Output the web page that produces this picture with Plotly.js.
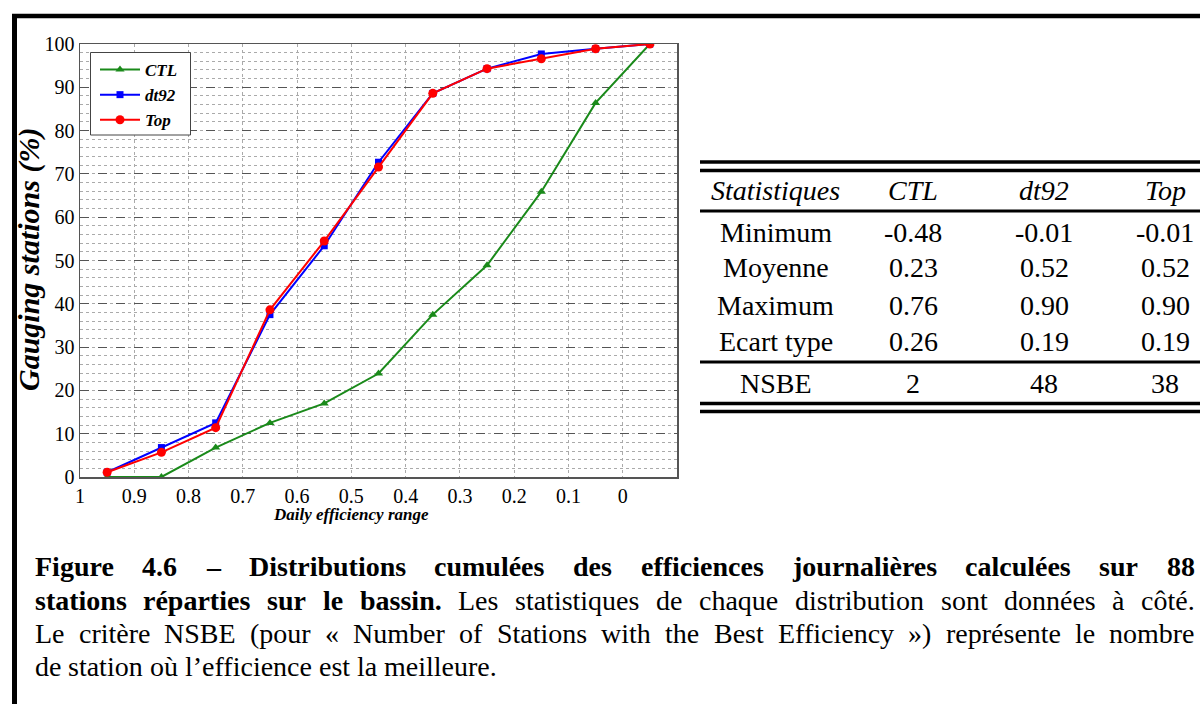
<!DOCTYPE html>
<html><head><meta charset="utf-8">
<script src="https://cdn.plot.ly/plotly-3.0.1.min.js"></script>
<style>html,body{margin:0;padding:0;background:#fff}#chart{width:1200px;height:704px}</style>
</head><body><div id="chart"></div>
<script>
// ---------- data ----------
const efficiencyBins = [0.95, 0.85, 0.75, 0.65, 0.55, 0.45, 0.35, 0.25, 0.15, 0.05, -0.05];
const ctlValues  = [0, 0, 6.8, 12.5, 17.0, 23.9, 37.5, 48.9, 65.9, 86.4, 100];
const dt92Values = [1.1, 6.8, 12.5, 37.5, 53.4, 72.7, 88.6, 94.3, 97.7, 98.9, 100];
const topValues  = [1.1, 5.7, 11.4, 38.6, 54.5, 71.6, 88.6, 94.3, 96.6, 98.9, 100];
const seriesNames = ["CTL", "dt92", "Top"];
const xTickVals = [1, 0.9, 0.8, 0.7, 0.6, 0.5, 0.4, 0.3, 0.2, 0.1, 0];
const xTickText = ["1", "0.9", "0.8", "0.7", "0.6", "0.5", "0.4", "0.3", "0.2", "0.1", "0"];
const yTickVals = [0, 10, 20, 30, 40, 50, 60, 70, 80, 90, 100];
const xTitle = "Daily efficiency range";
const yTitle = "Gauging stations (%)";
const tableHeader = ["Statistiques", "CTL", "dt92", "Top"];
const statNames = ["Minimum", "Moyenne", "Maximum", "Ecart type", "NSBE"];
const ctlStats  = ["-0.48", "0.23", "0.76", "0.26", "2"];
const dt92Stats = ["-0.01", "0.52", "0.90", "0.19", "48"];
const topStats  = ["-0.01", "0.52", "0.90", "0.19", "38"];
const captionLine1 = [["Figure 4.6 – Distributions cumulées des efficiences journalières calculées sur 88", true]];
const captionLine2 = [["stations réparties sur le bassin.", true], ["Les statistiques de chaque distribution sont données à côté.", false]];
const captionLine3 = [["Le critère NSBE (pour « Number of Stations with the Best Efficiency ») représente le nombre", false]];
const captionLine4 = [["de station où l’efficience est la meilleure.", false]];

// ---------- helpers ----------
const W = 1200, H = 704;
const px = x => x / W;
const py = y => 1 - y / H;
const SERIF = 'Liberation Serif, Times New Roman, serif';
const PLOT = {l: 80, r: 677, t: 44, b: 477};

const traces = [
  {x: efficiencyBins, y: ctlValues, name: '<b><i>' + seriesNames[0] + '</i></b>', mode: 'lines+markers',
   line: {color: '#1a8a1a', width: 2}, marker: {symbol: 'triangle-up', size: 8, color: '#1a8a1a'}},
  {x: efficiencyBins, y: dt92Values, name: '<b><i>' + seriesNames[1] + '</i></b>', mode: 'lines+markers',
   line: {color: '#0000ff', width: 2}, marker: {symbol: 'square', size: 7, color: '#0000ff'}},
  {x: efficiencyBins, y: topValues, name: '<b><i>' + seriesNames[2] + '</i></b>', mode: 'lines+markers',
   line: {color: '#ff0000', width: 2}, marker: {symbol: 'circle', size: 9, color: '#ff0000'}}
];

const shapes = [];
const annotations = [];

// frame of the figure
shapes.push({type: 'line', xref: 'paper', yref: 'paper', x0: px(12), x1: px(1200), y0: py(16), y1: py(16), line: {color: '#000', width: 4.5}});
shapes.push({type: 'line', xref: 'paper', yref: 'paper', x0: px(14.5), x1: px(14.5), y0: py(14), y1: py(704), line: {color: '#000', width: 5}});

// legend box (opaque, above the grid)
shapes.push({type: 'rect', xref: 'paper', yref: 'paper', layer: 'above', x0: px(90.5), x1: px(190.5), y0: py(52.5), y1: py(135),
  fillcolor: '#fff', line: {color: '#444', width: 1}});

// table rules
const TX0 = 700, TX1 = 1200;
[[162, 3.5], [170.5, 3.5], [211, 3], [362, 3], [403.5, 3.5], [411.5, 3.5]].forEach(([y, w]) => {
  shapes.push({type: 'line', xref: 'paper', yref: 'paper', x0: px(TX0), x1: px(TX1), y0: py(y), y1: py(y), line: {color: '#000', width: w}});
});
const colX = [776, 913, 1044, 1165];
const TFS = 28;
tableHeader.forEach((h, i) => {
  annotations.push({xref: 'paper', yref: 'paper', x: px(colX[i]), y: py(191), xanchor: 'center', yanchor: 'middle',
    text: '<i>' + h + '</i>', showarrow: false, font: {family: SERIF, size: TFS, color: '#000'}});
});
const rowY = [232, 268, 305, 341, 383];
statNames.forEach((s, r) => {
  [s, ctlStats[r], dt92Stats[r], topStats[r]].forEach((v, c) => {
    annotations.push({xref: 'paper', yref: 'paper', x: px(colX[c]), y: py(rowY[r]), xanchor: 'center', yanchor: 'middle',
      text: v, showarrow: false, font: {family: SERIF, size: TFS, color: '#000'}});
  });
});

// axis titles
annotations.push({xref: 'paper', yref: 'paper', x: px(29), y: py(260), xanchor: 'center', yanchor: 'middle', textangle: -90,
  text: '<b><i>' + yTitle + '</i></b>', showarrow: false, font: {family: SERIF, size: 30, color: '#000'}});
annotations.push({xref: 'paper', yref: 'paper', x: px(351), y: py(514), xanchor: 'center', yanchor: 'middle',
  text: '<b><i>' + xTitle + '</i></b>', showarrow: false, font: {family: SERIF, size: 17, color: '#000'}});

// caption, justified word by word
const CFS = 28;
const ctx = document.createElement('canvas').getContext('2d');
function measure(t, bold) { ctx.font = (bold ? 'bold ' : '') + CFS + 'px "Liberation Serif"'; return ctx.measureText(t).width; }
function addLine(parts, yPix, justify) {
  const words = [];
  parts.forEach(([t, b]) => t.split(' ').forEach(w => { if (w) words.push([w, b]); }));
  const widths = words.map(([w, b]) => measure(w, b));
  const total = widths.reduce((a, b) => a + b, 0);
  const X0 = 35, X1 = 1195;
  const gap = justify ? (X1 - X0 - total) / (words.length - 1) : measure(' ', false);
  let x = X0;
  words.forEach(([w, b], i) => {
    annotations.push({xref: 'paper', yref: 'paper', x: px(x), y: py(yPix), xanchor: 'left', yanchor: 'middle',
      text: b ? '<b>' + w + '</b>' : w, showarrow: false, borderpad: 0, borderwidth: 0,
      font: {family: SERIF, size: CFS, color: '#000'}});
    x += widths[i] + gap;
  });
}
addLine(captionLine1, 566, true);
addLine(captionLine2, 600, true);
addLine(captionLine3, 633, true);
addLine(captionLine4, 666, false);

const layout = {
  width: W, height: H,
  margin: {l: 0, r: 0, t: 0, b: 0},
  paper_bgcolor: '#fff', plot_bgcolor: '#fff',
  showlegend: true,
  legend: {x: px(95), y: py(52), xanchor: 'left', yanchor: 'top', bgcolor: 'rgba(0,0,0,0)', borderwidth: 0,
    font: {family: SERIF, size: 17, color: '#000'}, tracegroupgap: 0, itemwidth: 40},
  xaxis: {domain: [px(PLOT.l), px(PLOT.r)], range: [1, -0.1], tickmode: 'array', tickvals: xTickVals, ticktext: xTickText,
    showgrid: true, gridcolor: '#aaaaaa', griddash: 'dot', gridwidth: 1, zeroline: false,
    showline: true, mirror: true, linecolor: '#555', linewidth: 1.5, ticks: '',
    tickfont: {family: SERIF, size: 20, color: '#000'}},
  yaxis: {domain: [py(PLOT.b), py(PLOT.t)], range: [0, 100], tickmode: 'array', tickvals: yTickVals,
    showgrid: true, gridcolor: '#555', griddash: 'dash', gridwidth: 1, zeroline: false,
    minor: {dtick: 2, showgrid: true, gridcolor: '#aaaaaa', griddash: 'dot', gridwidth: 1},
    showline: true, mirror: true, linecolor: '#555', linewidth: 1.5, ticks: '',
    tickfont: {family: SERIF, size: 20, color: '#000'}},
  shapes: shapes,
  annotations: annotations
};
Plotly.newPlot('chart', traces, layout, {displayModeBar: false, staticPlot: true});
</script>
</body></html>
